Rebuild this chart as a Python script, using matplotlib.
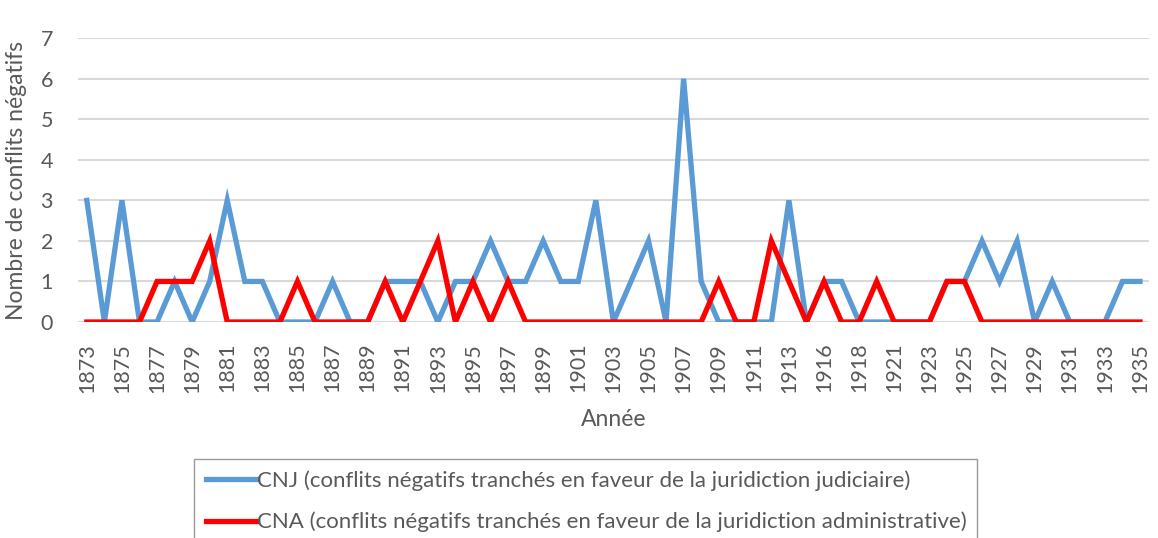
import matplotlib
matplotlib.use("Agg")
import matplotlib.pyplot as plt

# Data
years = list(range(1873, 1915)) + [1916, 1917, 1918, 1920] + list(range(1921, 1936))
cnj = [3, 0, 3, 0, 0, 1, 0, 1, 3, 1, 1, 0, 0, 0, 1, 0, 0, 1, 1, 1,
       0, 1, 1, 2, 1, 1, 2, 1, 1, 3, 0, 1, 2, 0, 6, 1, 0, 0, 0, 0,
       3, 0, 1, 1, 0, 0, 0, 0, 0, 1, 1, 2, 1, 2, 0, 1, 0, 0, 0, 1, 1]
cna = [0, 0, 0, 0, 1, 1, 1, 2, 0, 0, 0, 0, 1, 0, 0, 0, 0, 1, 0, 1,
       2, 0, 1, 0, 1, 0, 0, 0, 0, 0, 0, 0, 0, 0, 0, 0, 1, 0, 0, 2,
       1, 0, 1, 0, 0, 1, 0, 0, 0, 1, 1, 0, 0, 0, 0, 0, 0, 0, 0, 0, 0]
label_cnj = "CNJ (conflits négatifs tranchés en faveur de la juridiction judiciaire)"
label_cna = "CNA (conflits négatifs tranchés en faveur de la juridiction administrative)"

plt.rcParams['font.family'] = ['Lato', 'DejaVu Sans']
grey = "#595959"

fig = plt.figure(figsize=(11.58, 5.38), dpi=100)
ax = fig.add_axes([0.0674, 0.4015, 0.9246, 0.5275])

xs = list(range(len(years)))
ax.plot(xs, cnj, color="#5B9BD5", linewidth=3.8, solid_joinstyle="miter", label=label_cnj)
ax.plot(xs, cna, color="#FF0000", linewidth=3.8, solid_joinstyle="miter", label=label_cna)

ax.set_xlim(-0.5, len(years) - 0.5)
ax.set_ylim(0, 7)
ax.set_yticks(range(0, 8))
ax.yaxis.grid(True, color="#D9D9D9", linewidth=1.5)
ax.set_axisbelow(True)
ax.set_xticks(xs[::2])
ax.set_xticklabels([str(y) for y in years[::2]], rotation=90)
for s in ax.spines.values():
    s.set_visible(False)
ax.tick_params(length=0, labelsize=15.5, colors=grey)
ax.tick_params(axis="x", pad=15)
ax.tick_params(axis="y", pad=18)
ax.set_ylabel("Nombre de conflits négatifs", fontsize=16.5, color=grey, labelpad=10)
ax.set_xlabel("Année", fontsize=16.5, color=grey, labelpad=12)

leg = fig.legend(loc="upper center", bbox_to_anchor=(0.506, 0.147), fontsize=16,
                 frameon=True, fancybox=False, handlelength=2.3, handletextpad=0.0,
                 labelspacing=0.95, borderpad=0.5, borderaxespad=0)
leg.get_frame().set_edgecolor("#808080")
leg.get_frame().set_linewidth(1.0)
for t in leg.get_texts():
    t.set_color(grey)

fig.savefig("out.png", dpi=100)
